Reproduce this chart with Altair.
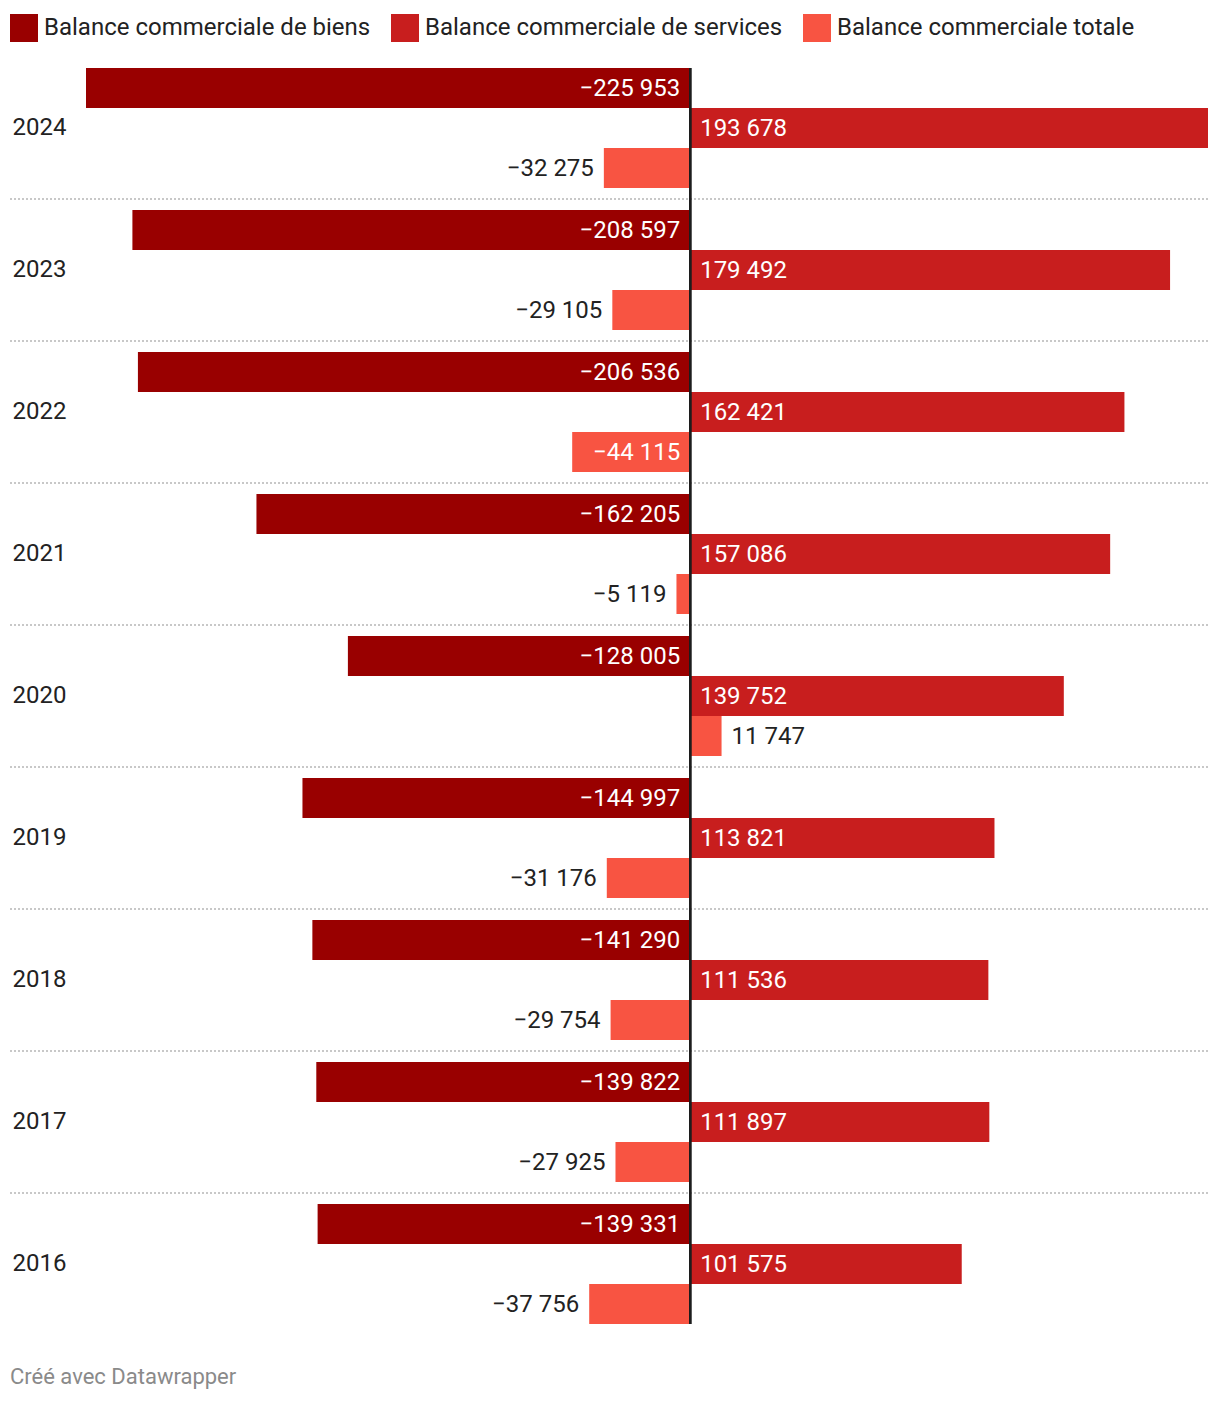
import altair as alt
import pandas as pd

years = ["2024", "2023", "2022", "2021", "2020", "2019", "2018", "2017", "2016"]
series = ["Balance commerciale de biens", "Balance commerciale de services", "Balance commerciale totale"]
biens = [-225953, -208597, -206536, -162205, -128005, -144997, -141290, -139822, -139331]
services = [193678, 179492, 162421, 157086, 139752, 113821, 111536, 111897, 101575]
totale = [-32275, -29105, -44115, -5119, 11747, -31176, -29754, -27925, -37756]
colors = ["#990000", "#c81e1e", "#f85442"]
footer = "Créé avec Datawrapper"

rows = []
for s, vals in zip(series, [biens, services, totale]):
    for y, v in zip(years, vals):
        inside = abs(v) >= 40000
        rows.append({
            "year": y,
            "series": s,
            "value": v,
            "label": f"{v:,}".replace(",", " ").replace("-", "\u2212"),
            "inside": inside,
            "anchor": 0 if inside else v,
        })
df = pd.DataFrame(rows)
grid_df = pd.DataFrame({"year": years[1:]})
foot_df = pd.DataFrame({"t": [footer]})

W, H = 1122, 1278
FONT = "Roboto"
FS = 24

xscale = alt.Scale(domain=[min(biens), max(services)], nice=False, zero=True)
yenc = alt.Y("year:N", sort=years,
             scale=alt.Scale(paddingInner=0, paddingOuter=0),
             axis=alt.Axis(title=None, ticks=False, domain=False, grid=False,
                           labelAlign="left", labelPadding=74, labelFontSize=FS,
                           labelColor="#222", labelFont=FONT))

base = alt.Chart(df)

grid = alt.Chart(grid_df).mark_rule(color="#c8c8c8", strokeWidth=2, strokeDash=[2, 2]).encode(
    y=alt.Y("year:N", sort=years, bandPosition=0),
    x=alt.value(-76),
    x2=alt.value(W),
)

bars = base.mark_bar().encode(
    x=alt.X("value:Q", scale=xscale, axis=None),
    y=yenc,
    yOffset=alt.YOffset("series:N", sort=series,
                        scale=alt.Scale(paddingInner=0, paddingOuter=0.275)),
    color=alt.Color("series:N", sort=series,
                    scale=alt.Scale(domain=series, range=colors),
                    legend=alt.Legend(title=None, orient="none", legendX=-76, legendY=-43,
                                      direction="horizontal", columns=3,
                                      symbolType="square", symbolSize=784,
                                      symbolStrokeWidth=0, labelFontSize=FS,
                                      labelFont=FONT, labelColor="#222",
                                      labelOffset=6, columnPadding=20,
                                      labelLimit=0)),
)

txt_color = alt.condition(alt.datum.inside, alt.value("white"), alt.value("#222"))

neg_labels = base.transform_filter(alt.datum.value < 0).mark_text(
    align="right", baseline="middle", dx=-10, dy=1, fontSize=FS, font=FONT
).encode(
    x=alt.X("anchor:Q", scale=xscale),
    y=alt.Y("year:N", sort=years),
    yOffset=alt.YOffset("series:N", sort=series),
    text="label:N",
    color=txt_color,
)

pos_labels = base.transform_filter(alt.datum.value > 0).mark_text(
    align="left", baseline="middle", dx=10, dy=1, fontSize=FS, font=FONT
).encode(
    x=alt.X("anchor:Q", scale=xscale),
    y=alt.Y("year:N", sort=years),
    yOffset=alt.YOffset("series:N", sort=series),
    text="label:N",
    color=txt_color,
)

zero = alt.Chart(grid_df).transform_calculate(z="0").mark_rule(color="#1d1d1d", strokeWidth=2).encode(
    x=alt.X("z:Q", scale=xscale),
    y=alt.value(11),
    y2=alt.value(H - 11),
)

foot = alt.Chart(foot_df).mark_text(
    align="left", baseline="middle", fontSize=22, font=FONT, color="#8a8a8a"
).encode(
    text="t:N",
    x=alt.value(-76),
    y=alt.value(H + 42),
)

chart = alt.layer(grid, bars, zero, neg_labels, pos_labels, foot).properties(
    width=W,
    height=H,
    padding={"left": 78, "top": 49, "right": 4, "bottom": 60},
    autosize=alt.AutoSizeParams(type="none"),
).configure(font=FONT).configure_view(stroke=None)

chart.save("out.html", embed_options={"renderer": "svg", "actions": False})
